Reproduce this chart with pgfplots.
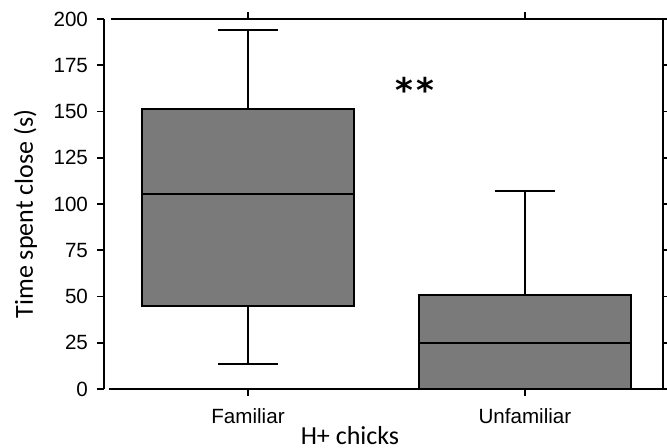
\documentclass[border=0pt]{standalone}
\usepackage{fontspec}
\setmainfont{Liberation Sans}
\newfontfamily\carlito{Carlito}
\newfontfamily\djv{DejaVu Sans}
\usepackage{pgfplots}
\pgfplotsset{compat=1.18}
\usepgfplotslibrary{statistics}
\definecolor{boxgray}{RGB}{122,122,122}
\begin{document}
\begin{tikzpicture}
\begin{axis}[
  scale only axis, width=279.5pt, height=185pt,
  xmin=0.48, xmax=2.4986, ymin=0, ymax=200,
  xtick={1,2}, xticklabels={Familiar,Unfamiliar},
  ytick={0,25,...,200},
  tick align=outside, major tick length=3.5pt,
  tick style={black, line width=0.9pt},
  separate axis lines,
  x axis line style={draw=none},
  y axis line style={line width=1pt},
  /pgf/number format/assume math mode=true,
  tick label style={font=\fontsize{10.3}{12}\selectfont},
  xticklabel style={yshift=-3pt},
  yticklabel style={xshift=-1pt},
  xlabel={H+ chicks}, ylabel={Time spent close (s)},
  label style={font=\carlito\fontsize{13}{15}\selectfont},
  xlabel style={at={(axis description cs:0.44,0)}, anchor=base, yshift=-27.6pt},
  ylabel style={at={([xshift=-35.5pt]axis description cs:0,0.473)}, anchor=base},
  boxplot/draw direction=y,
  clip=false,
]
\addplot[boxplot prepared={median=105.2, upper quartile=151.4, lower quartile=44.9, upper whisker=193.9, lower whisker=13.3, draw position=1, box extend=0.765, whisker extend=0.217}, fill=boxgray, draw=black, line width=0.9pt] coordinates {};
\addplot[boxplot prepared={median=24.7, upper quartile=50.8, lower quartile=0, upper whisker=107, lower whisker=0, draw position=2, box extend=0.765, whisker extend=0.217}, fill=boxgray, draw=black, line width=0.9pt] coordinates {};
\node[anchor=base, inner sep=0pt] at (axis cs:1.603,155) {\djv\bfseries\fontsize{17}{20}\selectfont *\kern1.8pt*};
\draw[line width=1pt] (rel axis cs:0.009,0) -- (rel axis cs:1,0);
\draw[line width=1pt] (rel axis cs:0.0125,1) -- (rel axis cs:1,1);
\end{axis}
\pgfresetboundingbox
\useasboundingbox (-52pt,-29.5pt) rectangle (281.5pt,194.5pt);
\end{tikzpicture}
\end{document}
